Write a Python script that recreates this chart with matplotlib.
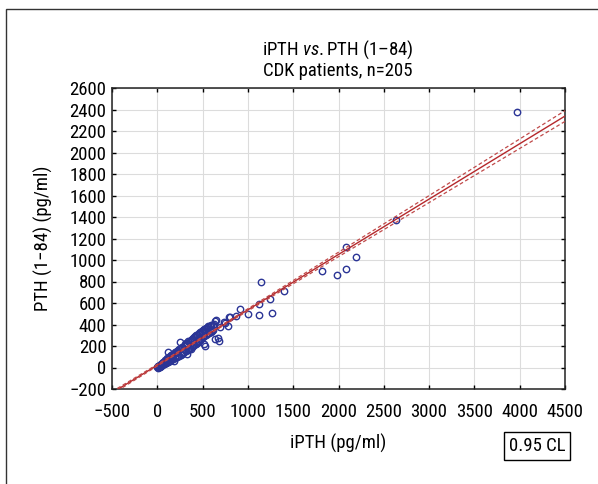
import numpy as np
import matplotlib
matplotlib.use('Agg')
import matplotlib.pyplot as plt
from matplotlib import font_manager
from matplotlib.patches import Rectangle

# pick a narrow face if one is installed, the reference uses a condensed sans
fonts = font_manager.fontManager.ttflist
font_name, font_stretch, fs = 'Roboto', 'normal', 11.5
for nm in ['Liberation Sans Narrow', 'Roboto Condensed', 'Open Sans Condensed', 'Noto Sans Condensed']:
    if any(f.name == nm for f in fonts):
        font_name, font_stretch, fs = nm, 'normal', 13.5
        break
else:
    for nm in ['Roboto', 'Noto Sans', 'DejaVu Sans', 'Open Sans']:
        if any(f.name == nm and f.stretch in ('condensed', 'semi-condensed', 'extra-condensed', 300, 400)
               for f in fonts if f.stretch not in ('normal', 500)):
            font_name, font_stretch, fs = nm, 'condensed', 13.5
            break

plt.rcParams['font.family'] = [font_name, 'DejaVu Sans']
plt.rcParams['font.stretch'] = font_stretch
plt.rcParams['mathtext.fontset'] = 'custom'
plt.rcParams['mathtext.it'] = font_name + ':italic'
plt.rcParams['mathtext.rm'] = font_name

# iPTH (pg/ml) vs PTH (1-84) (pg/ml)
ipth = [2, 5, 8, 10, 12, 15, 18, 20, 22, 25,
        28, 30, 33, 36, 40, 43, 46, 50, 53, 56,
        60, 63, 66, 70, 73, 76, 80, 84, 88, 92,
        96, 100, 104, 108, 112, 116, 120, 124, 128, 132,
        136, 140, 145, 150, 155, 160, 165, 170, 175, 180,
        185, 190, 195, 200, 206, 212, 218, 224, 230, 236,
        242, 248, 254, 260, 266, 272, 278, 284, 290, 296,
        302, 308, 314, 320, 326, 332, 338, 344, 350, 356,
        362, 368, 374, 381, 386, 392, 398, 404, 410, 418,
        422, 428, 434, 440, 446, 455, 458, 464, 470, 476,
        482, 488, 492, 500, 506, 510, 510, 518, 524, 529,
        536, 542, 547, 554, 560, 565, 572, 578, 584, 590,
        596, 602, 610, 618, 626, 639, 639, 650, 665, 676,
        690, 731, 750, 775, 795, 805,
        870, 915, 1000, 1120, 1120, 1150, 1240, 1270, 1400, 1820,
        1985, 2080, 2080, 2190, 2640, 3970]
pth = [5, 0, 12, 3, 10, 4, 15, 6, 18, 8,
       20, 12, 26, 14, 30, 18, 36, 22, 40, 25,
       46, 28, 50, 32, 55, 35, 62, 38, 66, 42,
       72, 45, 78, 50, 85, 52, 140, 58, 95, 60,
       100, 65, 108, 70, 112, 75, 120, 80, 128, 60,
       130, 90, 140, 95, 145, 100, 155, 105, 160, 110,
       170, 240, 175, 120, 185, 130, 195, 135, 200, 140,
       210, 217, 150, 225, 124, 230, 160, 248, 170, 250,
       180, 255, 170, 264, 190, 270, 200, 280, 210, 295,
       220, 300, 230, 305, 240, 311, 250, 320, 260, 330,
       265, 340, 341, 280, 350, 357, 217, 290, 360, 201,
       300, 365, 372, 310, 375, 388, 320, 390, 341, 330,
       395, 340, 400, 350, 405, 435, 264, 440, 270, 248,
       375, 419, 410, 385, 470, 466,
       475, 545, 500, 595, 490, 800, 640, 505, 710, 895,
       860, 920, 1125, 1030, 1375, 2380]

# fitted regression and 0.95 confidence band
intercept = 21.5
slope = 0.515
band_x_mean = 350
band_hw_at_mean = 6
band_hw_at_4500 = 50

x_ticks = [-500, 0, 500, 1000, 1500, 2000, 2500, 3000, 3500, 4000, 4500]
y_ticks = [-200, 0, 200, 400, 600, 800, 1000, 1200, 1400, 1600, 1800, 2000, 2200, 2400, 2600]

fig = plt.figure(figsize=(5.98, 4.84), dpi=100)
fig.patches.append(Rectangle((6 / 598, -0.1), 1.2, 1 - 9 / 484 + 0.1, transform=fig.transFigure,
                             fill=False, edgecolor='#333333', linewidth=1.0))

ax = fig.add_axes([112 / 598, 1 - 389 / 484, (565 - 112) / 598, (389 - 88) / 484])

xs = np.linspace(-500, 4500, 300)
fit = intercept + slope * xs
b = np.sqrt(band_hw_at_4500 ** 2 - band_hw_at_mean ** 2) / (4500 - band_x_mean)
hw = np.sqrt(band_hw_at_mean ** 2 + (b * (xs - band_x_mean)) ** 2)

ax.plot(ipth, pth, 'o', mfc='none', mec='#2b3596', ms=4.6, mew=1.0, zorder=3)
ax.plot(xs, fit, color='#b5282b', lw=1.0, zorder=4)
ax.plot(xs, fit + hw, color='#c04a4a', lw=0.9, ls=(0, (3, 2)), zorder=4)
ax.plot(xs, fit - hw, color='#c04a4a', lw=0.9, ls=(0, (3, 2)), zorder=4)

ax.set_xlim(-500, 4500)
ax.set_ylim(-200, 2600)
ax.set_xticks(x_ticks)
ax.set_yticks(y_ticks)
ax.grid(True, color='#dcdcdc', lw=0.8)
ax.set_axisbelow(True)
ax.tick_params(direction='in', top=True, right=True, length=3, width=1, labelsize=fs)
ax.tick_params(axis='x', pad=10)
ax.tick_params(axis='y', pad=4)
for s in ax.spines.values():
    s.set_linewidth(1.1)
    s.set_color('#222222')

ax.set_xlabel('iPTH (pg/ml)', fontsize=fs, labelpad=9)
ax.set_ylabel('PTH (1\u221284) (pg/ml)', fontsize=fs, labelpad=12)

fig.text(338 / 598, 1 - 50 / 484, 'iPTH $\\mathit{vs.}$PTH (1\u201384)', ha='center', va='center', fontsize=fs)
fig.text(338 / 598, 1 - 71 / 484, 'CDK patients, n=205', ha='center', va='center', fontsize=fs)

fig.text(537 / 598, 1 - 446 / 484, '0.95 CL', ha='center', va='center', fontsize=fs,
         bbox=dict(boxstyle='square,pad=0.25', fc='white', ec='black', lw=1.0))

fig.savefig('out.png', dpi=100)
